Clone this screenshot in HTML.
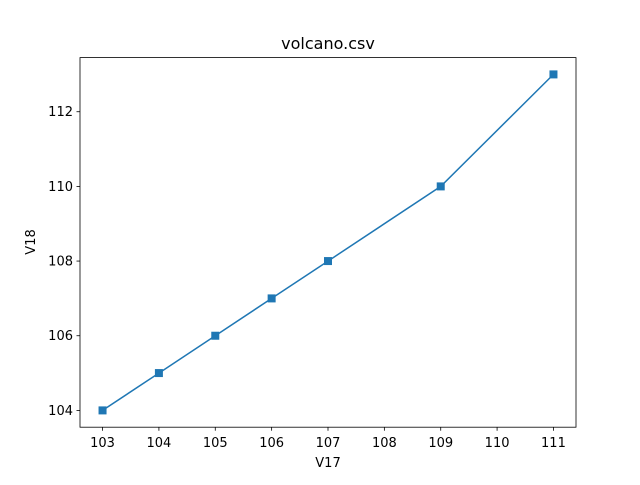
<!DOCTYPE html>
<html><head><meta charset="utf-8"><style>
body{margin:0;background:#fff;font-family:"Liberation Sans","DejaVu Sans",sans-serif;}
svg text{font-family:"DejaVu Sans","Liberation Sans",sans-serif;font-size:13px;fill:#000}
</style></head><body>
<svg id="chart" width="640" height="480" viewBox="0 0 640 480">
<rect width="640" height="480" fill="#fff"/>
<text x="328" y="49" text-anchor="middle" style="font-size:16px">volcano.csv</text>
<g id="plot"></g>
<rect x="80" y="57.6" width="496" height="369.6" fill="none" stroke="#000" stroke-width="0.8"/>
<text x="328" y="467" text-anchor="middle">V17</text>
<text transform="translate(35,242) rotate(-90)" text-anchor="middle">V18</text>
</svg>
<script>
const xValues=[103,104,105,106,107,109,111];
const yValues=[104,105,106,107,108,110,113];
const xTicks=[103,104,105,106,107,108,109,110,111];
const yTicks=[104,106,108,110,112];
const L=80,R=576,T=57.6,B=427.2;
const xmin=102.6,xmax=111.4,ymin=103.55,ymax=113.45;
const sx=v=>L+(v-xmin)/(xmax-xmin)*(R-L);
const sy=v=>B-(v-ymin)/(ymax-ymin)*(B-T);
const ns="http://www.w3.org/2000/svg";
const g=document.getElementById('plot');
function mk(t,a){const e=document.createElementNS(ns,t);for(const k in a)e.setAttribute(k,a[k]);g.appendChild(e);return e;}
xTicks.forEach(v=>{
 const l=mk('line',{x1:sx(v),x2:sx(v),y1:B,y2:B+3.5,stroke:'#000','stroke-width':0.8});
 
 
 const t=mk('text',{x:sx(v),y:B+20,'text-anchor':'middle'});t.textContent=v;
 
 
});
yTicks.forEach(v=>{
 const l=mk('line',{x1:L-3.5,x2:L,y1:sy(v),y2:sy(v),stroke:'#000','stroke-width':0.8});
 
 
 const t=mk('text',{x:L-7,y:sy(v)+4.5,'text-anchor':'end'});t.textContent=v;
 
 
});
const p=mk('polyline',{points:xValues.map((x,i)=>sx(x)+','+sy(yValues[i])).join(' '),fill:'none',stroke:'#1f77b4','stroke-width':1.5});


xValues.forEach((x,i)=>{
 const r=mk('rect',{x:sx(x)-4,y:sy(yValues[i])-4,width:8,height:8,fill:'#1f77b4'});
 
 
});
</script>
</body></html>
